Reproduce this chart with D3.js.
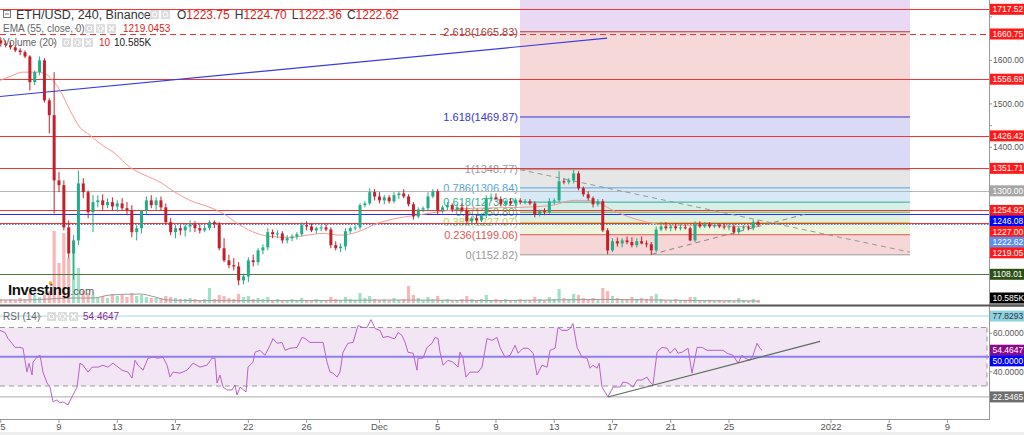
<!DOCTYPE html>
<html><head><meta charset="utf-8">
<script src="https://cdn.jsdelivr.net/npm/d3@7"></script>
<style>
html,body{margin:0;padding:0;background:#fff;overflow:hidden}
svg{display:block;font-family:"Liberation Sans",Arial,sans-serif}
</style></head><body>
<svg id="c" width="1024" height="435"></svg>
<script>
// ---------- DATA ----------
const startDay = 5;            // first candle: 5 Nov (days counted from 1 Nov = 1)
const candlesPerDay = 3;       // 8h candles
// [open, high, low, close]
const candles = [
[1646,1653,1632,1639],[1639,1646,1630,1635],[1635,1642,1625,1630],[1630,1635,1619,1623],[1623,1628,1612,1619],
[1619,1623,1605,1609],[1609,1612,1531,1550],[1550,1577,1543,1573],[1573,1609,1566,1600],[1600,1605,1503,1508],
[1508,1513,1432,1474],[1474,1573,1248,1324],[1324,1343,1297,1313],[1313,1324,1209,1216],[1216,1232,1145,1156],
[1156,1198,1096,1186],[1186,1347,1175,1317],[1317,1329,1283,1297],[1297,1301,1237,1251],[1251,1290,1205,1274],
[1274,1290,1262,1278],[1278,1292,1255,1267],[1267,1283,1260,1274],[1274,1285,1255,1264],[1264,1278,1251,1271],
[1271,1283,1255,1260],[1260,1274,1244,1255],[1255,1267,1193,1205],[1205,1221,1186,1214],[1214,1237,1202,1255],
[1255,1287,1246,1278],[1278,1290,1260,1267],[1267,1285,1255,1278],[1278,1287,1255,1262],[1262,1271,1221,1228],
[1228,1237,1198,1205],[1205,1221,1191,1214],[1214,1221,1198,1209],[1209,1223,1195,1218],[1218,1232,1205,1223],
[1223,1230,1205,1214],[1214,1223,1202,1209],[1209,1221,1205,1214],[1214,1232,1209,1228],[1228,1232,1214,1223],
[1223,1228,1163,1168],[1168,1191,1136,1140],[1140,1153,1122,1129],[1129,1145,1117,1126],[1126,1136,1083,1094],
[1094,1110,1085,1103],[1103,1147,1090,1140],[1140,1153,1126,1136],[1136,1168,1129,1163],[1163,1177,1154,1170],
[1170,1214,1163,1205],[1205,1211,1191,1200],[1200,1209,1191,1202],[1202,1207,1179,1186],[1186,1198,1179,1191],
[1191,1200,1184,1195],[1195,1205,1188,1200],[1200,1228,1195,1221],[1221,1230,1209,1218],[1218,1225,1205,1209],
[1209,1218,1202,1214],[1214,1221,1207,1216],[1216,1223,1207,1211],[1211,1216,1168,1175],[1175,1184,1163,1168],
[1168,1179,1159,1172],[1172,1214,1163,1207],[1207,1218,1202,1214],[1214,1221,1209,1216],[1216,1271,1211,1267],
[1267,1276,1262,1271],[1271,1306,1267,1297],[1297,1304,1278,1287],[1287,1297,1271,1278],[1278,1290,1269,1285],
[1285,1290,1271,1276],[1276,1297,1271,1290],[1290,1299,1281,1294],[1294,1304,1283,1287],[1287,1292,1264,1269],
[1269,1274,1234,1241],[1241,1262,1237,1257],[1257,1264,1251,1260],[1260,1297,1255,1287],[1287,1304,1283,1299],
[1299,1304,1246,1255],[1255,1267,1248,1262],[1262,1274,1255,1267],[1267,1271,1251,1257],[1257,1269,1253,1262],
[1262,1271,1251,1255],[1255,1264,1223,1230],[1230,1241,1223,1237],[1237,1244,1225,1232],[1232,1248,1228,1244],
[1244,1290,1237,1283],[1283,1294,1276,1285],[1285,1294,1278,1281],[1281,1287,1264,1269],[1269,1278,1264,1276],
[1276,1283,1267,1271],[1271,1281,1264,1278],[1278,1283,1269,1274],[1274,1281,1269,1276],[1276,1281,1267,1271],
[1271,1276,1239,1246],[1246,1257,1241,1253],[1253,1260,1244,1251],[1251,1283,1246,1276],[1276,1283,1269,1278],
[1278,1345,1274,1322],[1322,1329,1315,1320],[1320,1329,1315,1324],[1324,1348.77,1317,1340],[1340,1345,1301,1306],
[1306,1310,1287,1292],[1292,1299,1278,1283],[1283,1287,1262,1269],[1269,1281,1264,1276],[1276,1281,1205,1209],
[1209,1214,1154,1163],[1163,1191,1159,1184],[1184,1193,1172,1179],[1179,1191,1170,1186],[1186,1195,1177,1182],
[1182,1193,1170,1175],[1175,1191,1170,1184],[1184,1195,1177,1179],[1179,1186,1170,1177],[1177,1182,1152.82,1163],
[1163,1218,1159,1211],[1211,1228,1207,1218],[1218,1228,1209,1214],[1214,1223,1207,1218],[1218,1225,1209,1214],
[1214,1223,1209,1216],[1216,1223,1211,1214],[1214,1218,1184,1186],[1186,1230,1182,1223],[1223,1230,1214,1218],
[1218,1228,1214,1223],[1223,1228,1214,1218],[1218,1225,1214,1221],[1221,1225,1214,1218],[1218,1225,1211,1216],
[1216,1223,1209,1218],[1218,1223,1200,1205],[1205,1218,1200,1214],[1214,1221,1209,1216],[1216,1221,1209,1214],
[1214,1234,1209,1228],[1228,1232,1218,1222.62]
];
// volume in thousands
const volumes = [20,15,20,15,25,20,
50,40,30,40,60,360,200,350,225,250,175,
60,50,40,30,35,25,45,35,40,30,50,35,40,30,25,25,25,35,30,25,20,20,25,20,15,
20,75,20,40,35,25,20,45,30,35,20,25,20,30,
15,20,15,15,20,15,25,15,15,20,15,15,30,20,15,30,20,15,
50,25,35,20,15,20,15,25,15,20,
85,40,25,15,30,20,35,15,20,15,15,20,35,20,15,20,40,
15,20,15,20,15,15,20,15,15,30,20,15,30,20,
70,25,20,45,40,25,20,25,15,75,60,35,25,20,20,30,20,25,20,35,45,
20,15,15,20,15,15,30,30,15,10,15,10,15,10,15,10,25,15,10,20,10.585];
const volumeMA = [[4.95,15],[6.67,15],[8.38,20],[10.10,25],[11.34,25],[12.50,40],[14.56,45],[15.59,30],[16.41,15],
[18.68,12],[25.55,12],[32.41,15],[39.28,12],[46.14,18],[53.01,12],[57.13,10]];
const ema55 = [[4.95,1554],[5.64,1563],[6.53,1573],[7.70,1573],[8.38,1561],[9.07,1531],[9.76,1485],[10.44,1446],
[11.13,1428],[11.81,1409],[12.84,1386],[13.87,1354],[14.90,1336],[15.93,1320],[16.96,1297],[17.99,1278],[19.37,1262],
[20.26,1248],[21.43,1221],[22.59,1202],[23.49,1195],[24.86,1193],[26.03,1198],[27.13,1202],[28.29,1198],[29.46,1205],
[30.83,1225],[32.21,1237],[33.58,1244],[34.95,1251],[37.42,1260],[40.65,1262],[42.92,1267],[44.29,1278],[45.25,1278],
[46.14,1271],[47.04,1255],[48.41,1237],[49.78,1225],[51.16,1221],[53.49,1221],[55.76,1218],[57.13,1219.05]];
const rsi14 = [[4.95,68.0],[5.29,66.6],[5.50,62.5],[5.77,59.2],[5.98,56.4],[6.32,56.4],[6.53,55.8],[6.80,39.5],[6.94,45.6],
[7.15,37.5],[7.22,46.3],[7.49,49.7],[7.70,51.0],[7.90,39.5],[8.18,32.0],[8.38,29.3],[8.59,19.2],[8.86,20.5],[9.07,18.5],
[9.27,19.2],[9.62,17.1],[9.89,22.5],[10.24,29.3],[10.44,45.6],[10.65,44.2],[10.99,39.5],[11.27,42.9],[11.68,42.9],
[12.02,44.2],[12.36,42.9],[12.71,45.6],[13.05,42.9],[13.33,40.8],[13.74,39.5],[14.01,35.4],[14.22,47.6],[14.42,44.2],
[14.77,40.8],[15.11,49.0],[15.45,49.7],[15.80,49.0],[16.14,49.7],[16.42,44.2],[16.62,36.1],[16.83,39.5],[17.31,38.8],
[17.79,40.8],[18.20,45.6],[18.68,42.9],[19.16,44.2],[19.50,49.0],[19.71,49.0],[19.85,32.0],[20.05,37.5],[20.26,29.3],
[20.53,27.3],[20.88,27.3],[21.08,30.7],[21.22,23.9],[21.43,29.3],[21.84,25.9],[21.98,42.9],[22.32,46.3],[22.46,53.1],
[22.80,54.4],[23.14,51.0],[23.49,57.8],[23.69,62.5],[23.97,59.2],[24.31,59.8],[24.52,54.4],[24.86,55.8],[25.34,56.4],
[25.68,63.2],[25.89,62.5],[26.23,59.8],[26.71,59.8],[27.13,59.8],[27.40,46.3],[27.61,39.5],[27.81,38.8],[28.09,36.1],
[28.29,39.5],[28.50,53.1],[28.84,59.2],[29.19,59.8],[29.53,71.4],[29.87,70.0],[30.15,70.0],[30.42,75.4],[30.70,69.3],
[31.04,68.0],[31.25,63.2],[31.59,63.9],[31.93,62.5],[32.07,62.5],[32.28,66.6],[32.55,64.6],[32.76,59.8],[32.96,53.1],
[33.31,52.4],[33.58,40.8],[33.65,49.0],[33.99,49.0],[34.27,56.4],[34.61,59.2],[34.82,63.2],[35.02,62.5],[35.16,53.1],
[35.37,44.2],[35.71,47.6],[36.05,46.3],[36.40,42.9],[36.53,53.1],[36.74,49.0],[36.94,36.1],[37.22,39.5],[37.77,39.5],
[38.04,42.9],[38.39,62.5],[38.73,61.2],[39.07,63.2],[39.28,56.4],[39.62,49.7],[39.97,51.0],[40.31,57.8],[40.52,52.4],
[40.86,55.8],[41.20,55.8],[41.55,52.4],[41.82,37.5],[42.16,44.2],[42.51,42.9],[42.71,54.4],[43.06,55.8],[43.26,70.0],
[43.54,68.0],[43.88,68.0],[44.09,69.3],[44.29,72.7],[44.57,56.4],[44.91,49.7],[45.25,49.0],[45.46,42.2],[45.66,44.2],
[45.94,42.2],[46.08,45.6],[46.28,29.3],[46.69,22.5],[47.04,29.3],[47.52,29.3],[47.72,32.7],[48.07,32.0],[48.41,29.3],
[48.69,34.1],[49.03,34.1],[49.37,36.1],[49.58,32.7],[49.78,30.7],[50.06,53.1],[50.40,56.4],[50.75,55.8],[50.95,52.4],
[51.30,55.8],[51.50,52.4],[51.78,53.1],[52.19,55.8],[52.46,38.8],[52.81,56.4],[53.15,56.4],[53.49,54.4],[54.59,54.4],
[54.87,52.4],[55.28,51.0],[55.62,45.6],[55.89,51.0],[56.10,49.0],[56.44,47.6],[56.65,51.0],[56.92,59.2],[57.13,55.8],
[57.27,54.4647]];
// horizontal price levels drawn across the chart
const levelPrices = [1717.52,1660.75,1556.69,1426.42,1351.71,1300.00,1254.92,1246.08,1227.00,1222.62,1108.01];
const emaLast = 1219.05;
const volumeLast = "10.585K";
// Fibonacci retracement
const fibRatios = [0,0.236,0.382,0.5,0.618,0.786,1,1.618,2.618,3.618];
const fibValues = [1152.82,1199.06,1227.07,1250.80,1273.92,1306.84,1348.77,1469.87,1665.83,1861.78];
const fibDays = [40.65,67.43];
// trend lines [[day,price],[day,price]]
const blueTrend = [[4.95,1517],[46.63,1651]];
const fibDiagonal = [[40.65,1348.77],[67.43,1159]];
const supportTrend = [[49.71,1154],[60.43,1248]];
const rsiTrend = [[46.69,22.5],[61.25,60.5]];
const rsiMin = 22.5465, rsiMax = 77.8293, rsiLast = 54.4647;
const priceTicks = [1100,1150,1200,1250,1300,1350,1400,1450,1500,1550,1600,1650,1700];
const rsiTicks = [40,60];
const dateTickDays = [5,9,13,17,22,26,31,35,39,43,47,51,55,62,66,70];
const dateTickLabels = ["5","9","13","17","22","26","Dec","5","9","13","17","21","25","2022","5","9"];
const ohlc = {O:"1223.75",H:"1224.70",L:"1222.36",C:"1222.62"};

// ---------- SCALES ----------
const AX = 989;
const svg = d3.select('#c');
const x = d3.scaleLinear().domain([9,55]).range([59,729]);
const yP = d3.scaleLinear().domain([1108.01,1717.52]).range([274.3,9.3]);
const yV = d3.scaleLinear().domain([0,400]).range([303,223]);
const yR = d3.scaleLinear().domain([30,70]).range([386,327.5]);
const candleDay = i => startDay + i / candlesPerDay;

const defs = svg.append('defs');
defs.append('clipPath').attr('id','cp').append('rect').attr('x',0).attr('y',0).attr('width',AX).attr('height',304);
defs.append('clipPath').attr('id','cr').append('rect').attr('x',0).attr('y',307).attr('width',AX).attr('height',112);

const gP = svg.append('g').attr('clip-path','url(#cp)');
const gR = svg.append('g').attr('clip-path','url(#cr)');

// ---------- FIB ----------
const fibFill = ['#f6d6d6','#eff5dc','#def1de','#d7efe8','#d7e9f6','#e6e6e6','#dadaf6','#f6d8d8','#ead9f4'];
const fibStroke = ['#9a9a9a','#e05555','#b5d45a','#55b455','#2fae8e','#56a6dc','#9a9a9a','#3636dd','#a83a3a','#9c27b0'];
const fx0 = x(fibDays[0]), fx1 = x(fibDays[1]);
for (let k = 0; k < fibValues.length - 1; k++) {
  gP.append('rect').attr('x',fx0).attr('width',fx1-fx0)
    .attr('y',yP(fibValues[k+1])).attr('height',yP(fibValues[k])-yP(fibValues[k+1]))
    .attr('fill',fibFill[k]);
}
fibValues.forEach((v,k)=>{
  gP.append('line').attr('x1',fx0).attr('x2',fx1).attr('y1',yP(v)).attr('y2',yP(v))
    .attr('stroke',fibStroke[k]).attr('stroke-width',1);
  if (k < fibValues.length-1) {
    gP.append('text').attr('x',fx0-2).attr('y',yP(v)).attr('dy','0.35em').attr('text-anchor','end')
      .attr('font-size',11).attr('fill',fibStroke[k]).text(`${fibRatios[k]}(${v.toFixed(2)})`);
  }
});

// ---------- VOLUME ----------
gP.append('g').selectAll('rect').data(volumes).join('rect')
  .attr('x',(d,i)=>x(candleDay(i))-1.6).attr('width',3.2)
  .attr('y',d=>yV(d)).attr('height',d=>yV(0)-yV(d))
  .attr('fill',(d,i)=> candles[i] && candles[i][3]>=candles[i][0] ? '#9fe2c6' : '#f9b6b6');
gP.append('path').datum(volumeMA)
  .attr('d',d3.line().x(d=>x(d[0])).y(d=>yV(d[1])).curve(d3.curveMonotoneX))
  .attr('fill','none').attr('stroke','#9a9a9a').attr('stroke-width',1);

// ---------- HORIZONTAL LEVELS ----------
const levelColor = ['#f23535','#e83535','#f23535','#f23535','#f23535','#b8b8b8','#f23535','#2a2aff','#f23535','#4a78e8','#4f7a3a'];
const levelDash = [null,'6,4',null,null,null,null,null,null,null,'1.5,1.5',null];
levelPrices.forEach((p,i)=>{
  gP.append('line').attr('x1',0).attr('x2',AX).attr('y1',Math.round(yP(p))+0.5).attr('y2',Math.round(yP(p))+0.5)
    .attr('stroke',levelColor[i]).attr('stroke-width',1).attr('stroke-dasharray',levelDash[i]);
});

// trend lines
const tl = d3.line().x(d=>x(d[0])).y(d=>yP(d[1]));
gP.append('path').datum(blueTrend).attr('d',tl).attr('stroke','#3a3ae6').attr('stroke-width',1.2).attr('fill','none');
gP.append('path').datum(fibDiagonal).attr('d',tl).attr('stroke','#999').attr('stroke-dasharray','5,4').attr('fill','none');
gP.append('path').datum(supportTrend).attr('d',tl).attr('stroke','#888').attr('stroke-dasharray','5,4').attr('fill','none');

// EMA
gP.append('path').datum(ema55)
  .attr('d',d3.line().x(d=>x(d[0])).y(d=>yP(d[1])).curve(d3.curveMonotoneX))
  .attr('fill','none').attr('stroke','#f49a96').attr('stroke-width',1);

// ---------- CANDLES ----------
const up='#22ad88', dn='#c4202b';
const gc = gP.append('g');
candles.forEach((c,i)=>{
  const cx = x(candleDay(i)), col = c[3]>=c[0]?up:dn;
  gc.append('line').attr('x1',cx).attr('x2',cx).attr('y1',yP(c[1])).attr('y2',yP(c[2])).attr('stroke',col).attr('stroke-width',1);
  const yt = yP(Math.max(c[0],c[3])), yb = yP(Math.min(c[0],c[3]));
  gc.append('rect').attr('x',cx-1.5).attr('width',3).attr('y',yt).attr('height',Math.max(1,yb-yt)).attr('fill',col);
});

// ---------- RSI ----------
gR.append('rect').attr('x',0).attr('width',987).attr('y',yR(70)).attr('height',yR(30)-yR(70)).attr('fill','#f3e6f4');
[70,30].forEach(v=>gR.append('line').attr('x1',0).attr('x2',987).attr('y1',yR(v)).attr('y2',yR(v))
  .attr('stroke','#999').attr('stroke-dasharray','5,4'));
gR.append('line').attr('x1',987).attr('x2',987).attr('y1',yR(70)).attr('y2',yR(30)).attr('stroke','#999').attr('stroke-dasharray','5,4');
gR.append('line').attr('x1',0).attr('x2',AX).attr('y1',yR(50)).attr('y2',yR(50)).attr('stroke','#8c80f2').attr('stroke-width',2);
gR.append('line').attr('x1',0).attr('x2',AX).attr('y1',yR(rsiMax)).attr('y2',yR(rsiMax)).attr('stroke','#9fd9e8');
gR.append('line').attr('x1',0).attr('x2',AX).attr('y1',yR(rsiMin)).attr('y2',yR(rsiMin)).attr('stroke','#aaa');
gR.append('path').datum(rsi14).attr('d',d3.line().x(d=>x(d[0])).y(d=>yR(d[1])))
  .attr('fill','none').attr('stroke','#b863c9').attr('stroke-width',1);
gR.append('path').datum(rsiTrend).attr('d',d3.line().x(d=>x(d[0])).y(d=>yR(d[1])))
  .attr('fill','none').attr('stroke','#5d6b5d').attr('stroke-width',1.2);

// ---------- FRAME ----------
svg.append('line').attr('x1',0).attr('x2',1024).attr('y1',305.5).attr('y2',305.5).attr('stroke','#555').attr('stroke-width',2);
svg.append('line').attr('x1',AX+0.5).attr('x2',AX+0.5).attr('y1',0).attr('y2',420).attr('stroke','#999');
svg.append('line').attr('x1',0).attr('x2',AX).attr('y1',419.5).attr('y2',419.5).attr('stroke','#999');
svg.append('rect').attr('x',0).attr('y',432).attr('width',1024).attr('height',3).attr('fill','#eeeeee');

// x axis
dateTickDays.forEach((d,i)=>{
  const xx = x(d);
  svg.append('line').attr('x1',xx).attr('x2',xx).attr('y1',420).attr('y2',423).attr('stroke','#999');
  svg.append('text').attr('x',Math.max(xx,3)).attr('y',430).attr('text-anchor','middle').attr('font-size',9.5).attr('fill','#555').text(dateTickLabels[i]);
});

// colored axis labels with simple collision avoidance
const LH = 10.6, FS = 8.5;
function placeLabels(items,h){
  items.sort((a,b)=>a.y-b.y); let prev=-1e9;
  items.forEach(d=>{ d.ly=Math.max(d.y, prev+h); prev=d.ly; });
  return items;
}
const labelBg = ['#ff1a1a','#ff1a1a','#ff1a1a','#ff1a1a','#ff1a1a','#a6a6a6','#ff1a1a','#0000ff','#ff1a1a','#5b8ff0','#2d5016'];
const priceLabels = levelPrices.map((p,i)=>({y:yP(p),text:p.toFixed(2),bg:labelBg[i],fg:'#fff'}));
priceLabels.push({y:yP(emaLast),text:emaLast.toFixed(2),bg:'#ff1a1a',fg:'#fff'});
// volume label kept just above the panel separator
priceLabels.push({y:Math.min(yV(volumes[volumes.length-1]),298),text:volumeLast,bg:'#000',fg:'#fff'});
placeLabels(priceLabels,LH);

// price axis ticks (labels hidden where a coloured label covers them)
priceTicks.forEach(p=>{
  const yy = yP(p);
  svg.append('line').attr('x1',AX).attr('x2',AX+3).attr('y1',yy).attr('y2',yy).attr('stroke','#999');
  if (priceLabels.some(l=>Math.abs(l.ly-yy)<LH)) return;
  svg.append('text').attr('x',AX+4).attr('y',yy).attr('dy','0.35em').attr('font-size',FS).attr('fill','#555').text(p.toFixed(2));
});

function drawLabels(items){
  items.forEach(d=>{
    svg.append('rect').attr('x',AX+1).attr('y',d.ly-5.5).attr('width',34).attr('height',11).attr('fill',d.bg);
    svg.append('text').attr('x',AX+3.5).attr('y',d.ly).attr('dy','0.35em').attr('font-size',FS).attr('fill',d.fg).text(d.text);
  });
}
drawLabels(priceLabels);
svg.append('line').attr('x1',AX).attr('x2',1024).attr('y1',305.5).attr('y2',305.5).attr('stroke','#555').attr('stroke-width',2);

const rsiLabels = placeLabels([
  {y:yR(rsiMax),text:rsiMax.toFixed(4),bg:'#8fd3e3',fg:'#333'},
  {y:yR(rsiLast),text:rsiLast.toFixed(4),bg:'#8b0a8b',fg:'#fff'},
  {y:yR(50),text:(50).toFixed(4),bg:'#0000ff',fg:'#fff'},
  {y:yR(rsiMin),text:rsiMin.toFixed(4),bg:'#6e6e6e',fg:'#fff'}],LH);
rsiTicks.forEach(v=>{
  let yy = yR(v);
  rsiLabels.forEach(l=>{ if (Math.abs(l.ly-yy)<LH) yy = yy<l.ly ? l.ly-17 : l.ly+11; });
  svg.append('line').attr('x1',AX).attr('x2',AX+3).attr('y1',yy).attr('y2',yy).attr('stroke','#999');
  svg.append('text').attr('x',AX+4).attr('y',yy).attr('dy','0.35em').attr('font-size',FS).attr('fill','#555').text(v.toFixed(4));
});
drawLabels(rsiLabels);

// ---------- LEGENDS ----------
function icons(x0,y0){
  for(let k=0;k<3;k++){
    const g = svg.append('g').attr('transform',`translate(${x0+k*11},${y0})`);
    g.append('rect').attr('width',9).attr('height',9).attr('rx',1).attr('fill','#dcdcdc');
    if(k===0) g.append('circle').attr('cx',4.5).attr('cy',4.5).attr('r',2.3).attr('fill','none').attr('stroke','#fff');
    if(k===1) g.append('circle').attr('cx',4.5).attr('cy',4.5).attr('r',2.5).attr('fill','none').attr('stroke','#fff').attr('stroke-width',1.6).attr('stroke-dasharray','1.2,0.8');
    if(k===2) g.append('path').attr('d','M2,2L7,7M7,2L2,7').attr('stroke','#fff').attr('stroke-width',1.2);
  }
}
// row 1
svg.append('rect').attr('x',3.5).attr('y',10.5).attr('width',7).attr('height',7).attr('fill','#fff').attr('stroke','#777');
svg.append('line').attr('x1',5).attr('x2',9).attr('y1',14).attr('y2',14).attr('stroke','#777');
svg.append('text').attr('x',16).attr('y',19).attr('font-size',12.5).attr('fill','#333').text('ETH/USD, 240, Binance');
svg.append('path').attr('d','M141,14l3,3l3,-3z').attr('fill','#aaa');
[150,161].forEach(xx=>{
  const g = svg.append('g').attr('transform',`translate(${xx},10)`);
  g.append('rect').attr('width',9).attr('height',9).attr('fill','#dcdcdc');
  g.append('circle').attr('cx',4.5).attr('cy',4.5).attr('r',2.4).attr('fill','none').attr('stroke','#fff');
});
const o1 = svg.append('text').attr('x',177).attr('y',19).attr('font-size',12);
Object.entries(ohlc).forEach(([k,v],i)=>{
  o1.append('tspan').attr('fill','#333').attr('dx',i?5:0).text(k);
  o1.append('tspan').attr('fill','#e02020').text(v);
});
// row 2
svg.append('text').attr('x',3).attr('y',32).attr('font-size',10).attr('fill','#666').text('EMA (55, close, 0)');
svg.append('path').attr('d','M74,28l2.5,2.5l2.5,-2.5z').attr('fill','#aaa');
icons(85,24);
svg.append('text').attr('x',123).attr('y',32).attr('font-size',10).attr('fill','#e02020').text('1219.0453');
// row 3
svg.append('text').attr('x',3).attr('y',46).attr('font-size',10).attr('fill','#666').text('Volume (20)');
svg.append('path').attr('d','M52,42l2.5,2.5l2.5,-2.5z').attr('fill','#aaa');
icons(62,38);
svg.append('text').attr('x',99).attr('y',46).attr('font-size',10).attr('fill','#e02020').text('10');
svg.append('text').attr('x',114).attr('y',46).attr('font-size',10).attr('fill','#222').text('10.585K');
// RSI legend
svg.append('text').attr('x',3).attr('y',320).attr('font-size',10).attr('fill','#666').text('RSI (14)');
svg.append('path').attr('d','M37,316l2.5,2.5l2.5,-2.5z').attr('fill','#aaa');
icons(47,312);
svg.append('text').attr('x',83).attr('y',320).attr('font-size',10).attr('fill','#8b2a9b').text(rsiLast.toFixed(4));

// Investing.com logo
const lg = svg.append('text').attr('x',8).attr('y',295);
lg.append('tspan').attr('font-size',15).attr('font-weight','bold').attr('fill','#111').attr('letter-spacing','-0.4').text('Investing');
lg.append('tspan').attr('font-size',11).attr('fill','#555').text('.com');
svg.append('circle').attr('cx',50.5).attr('cy',283).attr('r',1.8).attr('fill','#f5a623');
</script>
</body></html>
